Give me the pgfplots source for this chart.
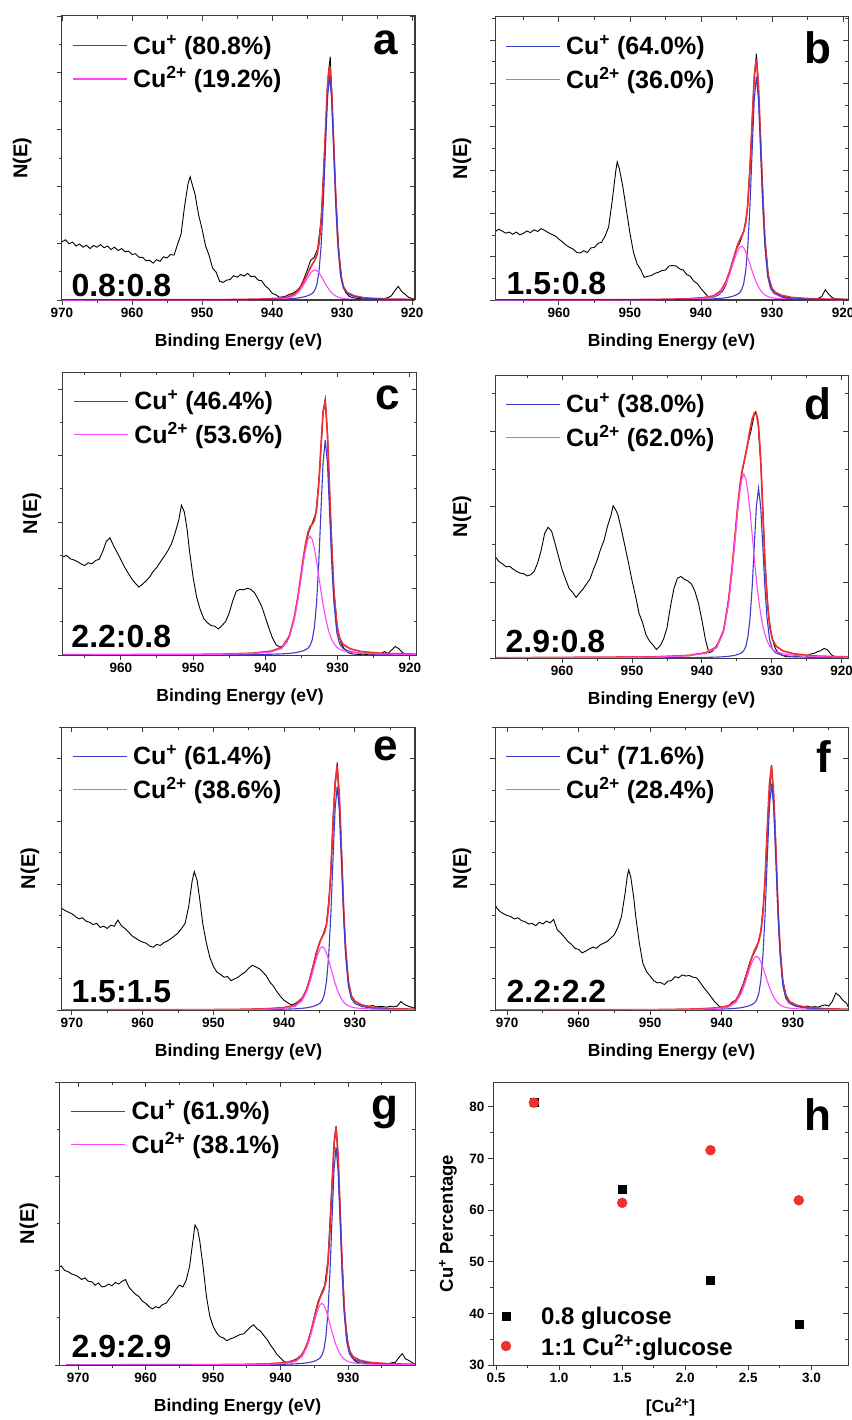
\documentclass[border=0pt]{standalone}
\usepackage{fontspec}
\setmainfont{Liberation Sans}
\usepackage{pgfplots}
\usepackage{pgfplotstable}
\pgfplotsset{compat=1.18}

\definecolor{cuone}{RGB}{60,60,205}
\definecolor{cutwo}{RGB}{255,70,255}
\definecolor{fitsum}{RGB}{238,48,48}
\definecolor{framegray}{RGB}{60,60,60}
\newcommand\fs[1]{\fontsize{#1}{#1}\selectfont}

% ---------- measured Cu 2p spectra (x = binding energy, y = normalised counts)
\pgfplotstableread{
x y
970.0 0.205
969.5 0.212
969.0 0.198
968.5 0.204
968.0 0.190
967.5 0.197
967.0 0.186
966.5 0.193
966.0 0.181
965.5 0.192
965.0 0.186
964.5 0.195
964.0 0.184
963.5 0.190
963.0 0.178
962.5 0.186
962.0 0.174
961.5 0.181
961.0 0.170
960.5 0.172
960.0 0.160
959.5 0.163
959.0 0.150
958.5 0.150
958.0 0.138
957.5 0.140
957.0 0.130
956.5 0.142
956.0 0.136
955.5 0.152
955.0 0.148
954.5 0.160
954.0 0.158
953.5 0.196
953.0 0.232
952.5 0.330
952.0 0.410
951.7 0.434
951.5 0.415
951.0 0.372
950.5 0.300
950.0 0.250
949.5 0.190
949.0 0.157
948.5 0.112
948.0 0.098
947.5 0.066
947.0 0.062
946.5 0.070
946.0 0.072
945.5 0.086
945.0 0.080
944.5 0.090
944.0 0.084
943.5 0.094
943.0 0.082
942.5 0.084
942.0 0.070
941.5 0.068
941.0 0.050
940.5 0.040
940.0 0.024
939.5 0.019
939.0 0.010
938.5 0.011
938.0 0.014
937.5 0.020
937.0 0.024
936.5 0.033
936.0 0.046
935.5 0.072
935.0 0.104
934.5 0.140
934.0 0.150
933.5 0.180
933.0 0.285
932.5 0.530
932.0 0.790
931.7 0.857
931.5 0.740
931.0 0.420
930.5 0.175
930.0 0.062
929.5 0.026
929.0 0.013
928.5 0.008
928.0 0.006
927.5 0.005
927.0 0.004
926.5 0.006
926.0 0.003
925.5 0.005
925.0 0.004
924.5 0.006
924.0 0.005
923.5 0.008
923.0 0.014
922.5 0.032
922.0 0.048
921.5 0.030
921.0 0.020
920.5 0.009
920.0 0.005
919.5 0.003
}\blkA

\pgfplotstableread{
x y
969.0 0.241
968.5 0.250
968.0 0.244
967.5 0.236
967.0 0.240
966.5 0.232
966.0 0.240
965.5 0.230
965.0 0.236
964.5 0.244
964.0 0.238
963.5 0.248
963.0 0.242
962.5 0.252
962.0 0.246
961.5 0.238
961.0 0.232
960.5 0.226
960.0 0.215
959.5 0.205
959.0 0.194
958.5 0.186
958.0 0.180
957.5 0.168
957.0 0.166
956.5 0.174
956.0 0.168
955.5 0.184
955.0 0.186
954.5 0.200
954.0 0.204
953.5 0.226
953.0 0.258
952.5 0.350
952.0 0.455
951.8 0.488
951.5 0.465
951.0 0.400
950.5 0.318
950.0 0.236
949.5 0.168
949.0 0.128
948.5 0.108
948.0 0.080
947.5 0.084
947.0 0.086
946.5 0.094
946.0 0.098
945.5 0.104
945.0 0.106
944.5 0.120
944.0 0.122
943.5 0.120
943.0 0.110
942.5 0.106
942.0 0.090
941.5 0.084
941.0 0.066
940.5 0.058
940.0 0.040
939.5 0.026
939.0 0.012
938.5 0.009
938.0 0.012
937.5 0.019
937.0 0.030
936.5 0.052
936.0 0.098
935.5 0.140
935.0 0.180
934.5 0.205
934.0 0.240
933.5 0.310
933.0 0.520
932.5 0.790
932.2 0.870
932.0 0.800
931.5 0.500
931.0 0.220
930.5 0.085
930.0 0.042
929.5 0.026
929.0 0.015
928.5 0.010
928.0 0.006
927.5 0.005
927.0 0.004
926.5 0.003
926.0 0.004
925.5 0.003
925.0 0.004
924.5 0.003
924.0 0.005
923.5 0.006
923.0 0.012
922.5 0.036
922.0 0.020
921.5 0.008
921.0 0.004
920.5 0.003
920.0 0.003
919.5 0.002
}\blkB

\pgfplotstableread{
x y
968.0 0.347
967.5 0.352
967.0 0.340
966.5 0.336
966.0 0.330
965.5 0.322
965.0 0.316
964.5 0.326
964.0 0.322
963.5 0.334
963.0 0.338
962.5 0.366
962.0 0.402
961.5 0.414
961.0 0.386
960.5 0.362
960.0 0.338
959.5 0.312
959.0 0.290
958.5 0.270
958.0 0.254
957.5 0.240
957.0 0.250
956.5 0.262
956.0 0.276
955.5 0.296
955.0 0.310
954.5 0.330
954.0 0.348
953.5 0.368
953.0 0.392
952.5 0.430
952.0 0.474
951.6 0.529
951.2 0.505
950.8 0.440
950.5 0.370
950.0 0.276
949.5 0.204
949.0 0.160
948.5 0.128
948.0 0.114
947.5 0.104
947.0 0.102
946.5 0.092
946.0 0.104
945.5 0.118
945.0 0.148
944.5 0.192
944.0 0.226
943.5 0.232
943.0 0.230
942.5 0.236
942.0 0.232
941.5 0.220
941.0 0.198
940.5 0.172
940.0 0.134
939.5 0.095
939.0 0.060
938.5 0.036
938.0 0.028
937.5 0.032
937.0 0.046
936.5 0.082
936.0 0.130
935.5 0.200
935.0 0.290
934.5 0.380
934.0 0.432
933.5 0.466
933.0 0.500
932.5 0.640
932.0 0.860
931.7 0.905
931.4 0.790
931.0 0.510
930.5 0.225
930.0 0.092
929.5 0.040
929.0 0.020
928.5 0.008
928.0 0.004
927.5 0.003
927.0 0.002
926.5 0.003
926.0 0.002
925.5 0.003
925.0 0.002
924.5 0.004
924.0 0.006
923.5 0.012
923.0 0.006
922.5 0.018
922.0 0.030
921.5 0.022
921.0 0.008
920.5 0.004
920.0 0.002
919.5 0.002
919.0 0.001
}\blkC

\pgfplotstableread{
x y
969.6 0.359
969.0 0.340
968.5 0.332
968.0 0.322
967.5 0.324
967.0 0.314
966.5 0.306
966.0 0.300
965.5 0.298
965.0 0.290
964.5 0.294
964.0 0.306
963.5 0.336
963.0 0.380
962.5 0.440
962.0 0.462
961.5 0.448
961.0 0.404
960.5 0.358
960.0 0.312
959.5 0.278
959.0 0.246
958.5 0.232
958.0 0.214
957.5 0.230
957.0 0.244
956.5 0.262
956.0 0.280
955.5 0.314
955.0 0.345
954.5 0.384
954.0 0.416
953.5 0.466
953.0 0.505
952.7 0.538
952.3 0.522
952.0 0.505
951.5 0.452
951.0 0.394
950.5 0.336
950.0 0.274
949.5 0.220
949.0 0.158
948.5 0.126
948.0 0.082
947.5 0.060
947.0 0.046
946.5 0.030
946.0 0.042
945.5 0.066
945.0 0.106
944.5 0.182
944.0 0.246
943.5 0.282
943.0 0.288
942.5 0.278
942.0 0.272
941.5 0.262
941.0 0.236
940.5 0.194
940.0 0.134
939.5 0.066
939.0 0.018
938.5 0.024
938.0 0.040
937.5 0.060
937.0 0.090
936.5 0.150
936.0 0.245
935.5 0.365
935.0 0.505
934.5 0.620
934.0 0.690
933.5 0.750
933.0 0.800
932.5 0.862
932.3 0.870
932.0 0.845
931.5 0.650
931.0 0.350
930.5 0.160
930.0 0.072
929.5 0.034
929.0 0.016
928.5 0.009
928.0 0.005
927.5 0.004
927.0 0.005
926.5 0.004
926.0 0.008
925.5 0.012
925.0 0.006
924.5 0.014
924.0 0.016
923.5 0.022
923.0 0.026
922.5 0.034
922.0 0.028
921.5 0.012
921.0 0.004
920.5 0.003
920.0 0.002
919.1 0.002
}\blkD

\pgfplotstableread{
x y
971.5 0.360
971.0 0.352
970.5 0.346
970.0 0.340
969.5 0.330
969.0 0.322
968.5 0.326
968.0 0.314
967.5 0.310
967.0 0.302
966.5 0.306
966.0 0.292
965.5 0.296
965.0 0.288
964.5 0.300
964.0 0.296
963.5 0.318
963.0 0.298
962.5 0.288
962.0 0.276
961.5 0.262
961.0 0.254
960.5 0.246
960.0 0.240
959.5 0.236
959.0 0.226
958.5 0.222
958.0 0.232
957.5 0.228
957.0 0.238
956.5 0.244
956.0 0.252
955.5 0.262
955.0 0.272
954.5 0.288
954.0 0.306
953.5 0.364
953.0 0.456
952.7 0.489
952.3 0.458
952.0 0.405
951.5 0.305
951.0 0.238
950.5 0.186
950.0 0.154
949.5 0.134
949.0 0.126
948.5 0.116
948.0 0.118
947.5 0.104
947.0 0.110
946.5 0.116
946.0 0.126
945.5 0.134
945.0 0.148
944.5 0.158
944.0 0.152
943.5 0.146
943.0 0.134
942.5 0.120
942.0 0.098
941.5 0.084
941.0 0.064
940.5 0.048
940.0 0.034
939.5 0.026
939.0 0.018
938.5 0.022
938.0 0.030
937.5 0.042
937.0 0.062
936.5 0.100
936.0 0.148
935.5 0.200
935.0 0.238
934.5 0.266
934.0 0.305
933.5 0.440
933.0 0.720
932.5 0.875
932.0 0.640
931.5 0.300
931.0 0.110
930.5 0.050
930.0 0.032
929.5 0.022
929.0 0.018
928.5 0.016
928.0 0.013
927.5 0.016
927.0 0.011
926.5 0.013
926.0 0.012
925.5 0.010
925.0 0.013
924.5 0.011
924.0 0.014
923.5 0.030
923.0 0.020
922.5 0.014
922.0 0.010
921.5 0.006
}\blkE

\pgfplotstableread{
x y
971.7 0.377
971.5 0.362
971.0 0.348
970.5 0.340
970.0 0.334
969.5 0.330
969.0 0.322
968.5 0.326
968.0 0.316
967.5 0.312
967.0 0.304
966.5 0.306
966.0 0.298
965.5 0.310
965.0 0.304
964.5 0.314
964.0 0.308
963.5 0.320
963.0 0.284
962.5 0.272
962.0 0.258
961.5 0.242
961.0 0.232
960.5 0.218
960.0 0.214
959.5 0.202
959.0 0.208
958.5 0.216
958.0 0.222
957.5 0.218
957.0 0.230
956.5 0.236
956.0 0.242
955.5 0.254
955.0 0.266
954.5 0.292
954.0 0.330
953.5 0.412
953.2 0.470
953.0 0.495
952.7 0.470
952.3 0.400
952.0 0.330
951.5 0.236
951.0 0.165
950.5 0.136
950.0 0.120
949.5 0.104
949.0 0.096
948.5 0.097
948.0 0.090
947.5 0.102
947.0 0.104
946.5 0.118
946.0 0.114
945.5 0.124
945.0 0.120
944.5 0.122
944.0 0.116
943.5 0.114
943.0 0.098
942.5 0.080
942.0 0.064
941.5 0.048
941.0 0.030
940.5 0.018
940.0 0.006
939.5 0.012
939.0 0.016
938.5 0.028
938.0 0.035
937.5 0.060
937.0 0.090
936.5 0.130
936.0 0.172
935.5 0.198
935.0 0.225
934.5 0.280
934.0 0.410
933.5 0.690
933.0 0.865
932.5 0.650
932.0 0.300
931.5 0.115
931.0 0.055
930.5 0.032
930.0 0.020
929.5 0.014
929.0 0.012
928.5 0.009
928.0 0.014
927.5 0.010
927.0 0.012
926.5 0.010
926.0 0.015
925.5 0.018
925.0 0.014
924.5 0.030
924.0 0.060
923.5 0.050
923.0 0.034
922.5 0.024
922.3 0.012
}\blkF

\pgfplotstableread{
x y
972.7 0.348
972.5 0.350
972.0 0.334
971.5 0.330
971.0 0.322
970.5 0.318
970.0 0.312
969.5 0.302
969.0 0.308
968.5 0.296
968.0 0.294
967.5 0.282
967.0 0.290
966.5 0.276
966.0 0.278
965.5 0.286
965.0 0.280
964.5 0.292
964.0 0.286
963.5 0.296
963.0 0.302
962.5 0.276
962.0 0.262
961.5 0.250
961.0 0.242
960.5 0.226
960.0 0.218
959.5 0.206
959.0 0.198
958.5 0.206
958.0 0.202
957.5 0.214
957.0 0.218
956.5 0.234
956.0 0.248
955.5 0.268
955.0 0.282
954.5 0.276
954.0 0.300
953.5 0.348
953.0 0.440
952.7 0.495
952.3 0.478
952.0 0.440
951.5 0.348
951.0 0.242
950.5 0.172
950.0 0.136
949.5 0.114
949.0 0.100
948.5 0.096
948.0 0.086
947.5 0.092
947.0 0.096
946.5 0.102
946.0 0.108
945.5 0.110
945.0 0.122
944.5 0.134
944.0 0.142
943.5 0.128
943.0 0.120
942.5 0.104
942.0 0.090
941.5 0.070
941.0 0.054
940.5 0.036
940.0 0.024
939.5 0.012
939.0 0.008
938.5 0.014
938.0 0.018
937.5 0.024
937.0 0.034
936.5 0.052
936.0 0.082
935.5 0.122
935.0 0.172
934.5 0.222
934.0 0.252
933.5 0.280
933.0 0.370
932.5 0.600
932.0 0.800
931.8 0.845
931.5 0.740
931.0 0.420
930.5 0.170
930.0 0.072
929.5 0.030
929.0 0.014
928.5 0.008
928.0 0.006
927.5 0.005
927.0 0.004
926.5 0.006
926.0 0.005
925.5 0.004
925.0 0.006
924.5 0.005
924.0 0.005
923.5 0.008
923.0 0.010
922.5 0.026
922.0 0.040
921.5 0.022
921.0 0.016
920.5 0.008
920.1 0.004
}\blkG

% ---------- peak fits: b = Cu+, m = Cu2+, r = envelope
\pgfplotstableread{
x b m r
917.8 0.0008 0.0003 0.0011
923.8 0.0024 0.0008 0.0032
926.8 0.0059 0.0016 0.0075
928.3 0.0122 0.0024 0.0146
929.3 0.0229 0.0037 0.0266
929.8 0.0403 0.0050 0.0453
930.2 0.0822 0.0070 0.0892
930.6 0.191 0.0101 0.201
930.9 0.336 0.0138 0.350
931.2 0.526 0.0188 0.545
931.5 0.707 0.0257 0.733
931.8 0.790 0.0345 0.825
932.1 0.707 0.0451 0.752
932.4 0.526 0.0572 0.583
932.7 0.336 0.0706 0.406
933.0 0.191 0.0837 0.275
933.3 0.103 0.0949 0.198
933.6 0.0561 0.103 0.159
933.9 0.0348 0.106 0.141
934.2 0.0245 0.103 0.128
934.5 0.0198 0.0949 0.115
934.8 0.0162 0.0837 0.100
935.2 0.0126 0.0661 0.0787
935.6 0.0103 0.0490 0.0593
936.1 0.0079 0.0311 0.039
936.8 0.0059 0.0151 0.021
937.8 0.0042 0.0058 0.010
939.3 0.0029 0.0028 0.0057
941.8 0.0016 0.0013 0.0029
946.8 0.0006 0.0005 0.0011
971.8 0 0.0001 0.0001
}\fitA

\pgfplotstableread{
x b m r
918.2 0.0008 0.0006 0.0014
924.2 0.0024 0.0014 0.0038
927.2 0.0059 0.0029 0.0088
928.7 0.0122 0.0044 0.0166
929.7 0.0229 0.0067 0.0296
930.2 0.0403 0.0089 0.0492
930.6 0.0822 0.0125 0.0947
931.0 0.191 0.0181 0.209
931.3 0.336 0.0247 0.361
931.6 0.526 0.0336 0.560
931.9 0.707 0.046 0.753
932.2 0.790 0.0618 0.852
932.5 0.707 0.0808 0.788
932.8 0.526 0.1026 0.629
933.1 0.336 0.1265 0.463
933.4 0.191 0.150 0.341
933.7 0.103 0.170 0.273
934.0 0.0561 0.185 0.241
934.3 0.0348 0.190 0.225
934.6 0.0245 0.185 0.209
934.9 0.0198 0.170 0.190
935.2 0.0162 0.150 0.166
935.6 0.0126 0.119 0.131
936.0 0.0103 0.0878 0.098
936.5 0.0079 0.0557 0.064
937.2 0.0059 0.0270 0.033
938.2 0.0042 0.0105 0.0147
939.7 0.0029 0.0049 0.0078
942.2 0.0016 0.0023 0.0039
947.2 0.0006 0.0009 0.0015
972.2 0 0.0001 0.0001
}\fitB

\pgfplotstableread{
x b m r
917.7 0.0008 0.0013 0.0021
923.7 0.0023 0.0032 0.0055
926.7 0.0057 0.0063 0.012
928.2 0.0118 0.0097 0.0215
929.2 0.022 0.0147 0.0367
929.7 0.0388 0.0197 0.0585
930.1 0.079 0.0277 0.107
930.5 0.184 0.0399 0.224
930.8 0.323 0.0546 0.378
931.1 0.506 0.0743 0.580
931.4 0.680 0.102 0.782
931.7 0.760 0.137 0.897
932.0 0.680 0.179 0.859
932.3 0.506 0.227 0.733
932.6 0.323 0.280 0.603
932.9 0.184 0.332 0.516
933.2 0.0988 0.376 0.475
933.5 0.054 0.408 0.462
933.8 0.0334 0.420 0.453
934.1 0.0236 0.408 0.432
934.4 0.019 0.376 0.395
934.7 0.0156 0.332 0.348
935.1 0.0122 0.262 0.274
935.5 0.0099 0.194 0.204
936.0 0.0076 0.123 0.131
936.7 0.0057 0.0596 0.065
937.7 0.004 0.0231 0.027
939.2 0.0028 0.0109 0.0137
941.7 0.0015 0.005 0.0065
946.7 0.0006 0.0019 0.0025
971.7 0 0.0002 0.0002
}\fitC

\pgfplotstableread{
x b m r
917.9 0.0006 0.0020 0.003
923.9 0.0018 0.0049 0.007
926.9 0.0045 0.0098 0.015
928.4 0.0093 0.0150 0.025
929.4 0.0174 0.0228 0.042
929.9 0.0306 0.0306 0.066
930.3 0.0624 0.0429 0.110
930.7 0.145 0.0618 0.215
931.0 0.255 0.0845 0.350
931.3 0.400 0.115 0.530
931.6 0.537 0.157 0.710
931.9 0.600 0.211 0.820
932.2 0.537 0.276 0.860
932.5 0.400 0.351 0.865
932.8 0.255 0.433 0.845
933.1 0.145 0.514 0.810
933.4 0.078 0.582 0.765
933.7 0.0426 0.632 0.725
934.0 0.0264 0.650 0.690
934.3 0.0186 0.632 0.655
934.6 0.0150 0.582 0.600
934.9 0.0123 0.514 0.530
935.3 0.0096 0.406 0.420
935.7 0.0078 0.300 0.315
936.2 0.0060 0.190 0.200
936.9 0.0045 0.0923 0.097
937.9 0.0032 0.0358 0.039
939.4 0.0022 0.0169 0.019
941.9 0.0012 0.0078 0.009
946.9 0.0005 0.0030 0.004
971.9 0 0.0003 0.0003
}\fitD

\pgfplotstableread{
x b m r
918.5 0.0008 0.0007 0.0015
924.5 0.0024 0.0017 0.0041
927.5 0.0059 0.0034 0.0093
929.0 0.0122 0.0052 0.0174
930.0 0.0229 0.0078 0.0307
930.5 0.0403 0.0105 0.0508
930.9 0.0822 0.0148 0.097
931.3 0.191 0.0213 0.212
931.6 0.336 0.0291 0.365
931.9 0.526 0.0396 0.566
932.2 0.707 0.0542 0.761
932.5 0.790 0.0728 0.863
932.8 0.707 0.0952 0.802
933.1 0.526 0.121 0.647
933.4 0.336 0.149 0.485
933.7 0.191 0.177 0.368
934.0 0.103 0.200 0.303
934.3 0.0561 0.218 0.274
934.6 0.0348 0.224 0.259
934.9 0.0245 0.218 0.243
935.2 0.0198 0.200 0.220
935.5 0.0162 0.177 0.193
935.9 0.0126 0.140 0.153
936.3 0.0103 0.1035 0.114
936.8 0.0079 0.0656 0.0735
937.5 0.0059 0.0318 0.0377
938.5 0.0042 0.0123 0.0165
940.0 0.0029 0.0058 0.0087
942.5 0.0016 0.0027 0.0043
947.5 0.0006 0.001 0.0016
972.5 0 0.0001 0.0001
}\fitE

\pgfplotstableread{
x b m r
919.0 0.0008 0.0006 0.0014
925.0 0.0024 0.0014 0.0038
928.0 0.006 0.0029 0.0089
929.5 0.0124 0.0044 0.0168
930.5 0.0232 0.0067 0.0299
931.0 0.0408 0.0089 0.0497
931.4 0.0832 0.0125 0.0957
931.8 0.194 0.0181 0.212
932.1 0.340 0.0247 0.365
932.4 0.533 0.0336 0.567
932.7 0.716 0.046 0.762
933.0 0.800 0.0618 0.862
933.3 0.716 0.0808 0.797
933.6 0.533 0.1026 0.636
933.9 0.340 0.1265 0.467
934.2 0.194 0.150 0.344
934.5 0.104 0.170 0.274
934.8 0.0568 0.185 0.242
935.1 0.0352 0.190 0.225
935.4 0.0248 0.185 0.210
935.7 0.020 0.170 0.190
936.0 0.0164 0.150 0.166
936.4 0.0128 0.119 0.132
936.8 0.0104 0.0878 0.098
937.3 0.008 0.0557 0.064
938.0 0.006 0.027 0.033
939.0 0.0042 0.0105 0.0147
940.5 0.003 0.0049 0.0079
943.0 0.0016 0.0023 0.0039
948.0 0.0006 0.0009 0.0015
973.0 0 0.0001 0.0001
}\fitF

\pgfplotstableread{
x b m r
917.8 0.0008 0.0007 0.0015
923.8 0.0023 0.0016 0.0039
926.8 0.0058 0.0033 0.0091
928.3 0.0119 0.005 0.0169
929.3 0.0223 0.0076 0.0299
929.8 0.0393 0.0102 0.0495
930.2 0.080 0.0144 0.0944
930.6 0.186 0.0207 0.207
930.9 0.327 0.0283 0.355
931.2 0.513 0.0386 0.552
931.5 0.689 0.0528 0.742
931.8 0.770 0.0709 0.841
932.1 0.689 0.0927 0.782
932.4 0.513 0.118 0.631
932.7 0.327 0.145 0.472
933.0 0.186 0.172 0.358
933.3 0.100 0.195 0.295
933.6 0.0547 0.212 0.267
933.9 0.0339 0.218 0.252
934.2 0.0239 0.212 0.236
934.5 0.0193 0.195 0.214
934.8 0.0158 0.172 0.188
935.2 0.0123 0.136 0.148
935.6 0.010 0.1007 0.111
936.1 0.0077 0.0639 0.0716
936.8 0.0058 0.031 0.0368
937.8 0.0041 0.012 0.0161
939.3 0.0028 0.0057 0.0085
941.8 0.0015 0.0026 0.0041
946.8 0.0006 0.001 0.0016
971.8 0 0.0001 0.0001
}\fitG

\tikzset{
  letter/.style={anchor=base east, font=\bfseries\fs{44}},
  ratio/.style={anchor=base west, font=\bfseries\fs{32}},
  keytext/.style={anchor=base west, inner sep=0pt, font=\bfseries\fs{25}},
}
\pgfplotsset{
  panel/.style={
    scale only axis, anchor=south west,
    axis line style={framegray, line width=1pt},
    every tick/.style={framegray, line width=0.9pt},
    major tick length=5pt, minor tick length=3pt,
    tick align=outside, xtick pos=left, ytick pos=left,
    ticklabel style={font=\bfseries\fs{13.5}},
    /pgf/number format/assume math mode=true,
    /pgf/number format/1000 sep={},
  },
  spec/.style={
    panel, x dir=reverse, ymin=0, ymax=1,
    xtick={920,930,...,970}, minor x tick num=1, minor y tick num=1,
    yticklabels={},
    xlabel={Binding Energy (eV)}, ylabel={N(E)},
    xlabel style={font=\bfseries\fs{17.5}, at={(0.5,-0.148)}, anchor=center, inner sep=0pt},
    ylabel style={font=\bfseries\fs{20}, anchor=center, inner sep=0pt},
  },
  mirror/.style={
    panel, x dir=reverse, ymin=0, ymax=1,
    xtick={920,930,...,970}, minor x tick num=1, minor y tick num=1,
    tick align=inside, xtick pos=right, ytick pos=right,
    xticklabels={}, yticklabels={},
  },
}

% spectrum, envelope, the two components and the key in the upper left
% (#5, #6: binding energies where the key lines start and end)
\newcommand\spectrum[6]{%
  \addplot[black, line width=0.9pt] table[x=x, y=y] {#1};
  \addplot[fitsum, line width=1.7pt] table[x=x, y=r] {#2};
  \addplot[cuone, line width=1.1pt] table[x=x, y=b] {#2};
  \addplot[cutwo, line width=1.1pt] table[x=x, y=m] {#2};
  \addplot[cuone, line width=1.6pt] coordinates {(#5,0.8955) (#6,0.8955)};
  \addplot[cutwo, line width=1.6pt] coordinates {(#5,0.7785) (#6,0.7785)};
  \node[keytext] at (rel axis cs:0.201,0.866) {Cu\textsuperscript{+} (#3\%)};
  \node[keytext] at (rel axis cs:0.201,0.749) {Cu\textsuperscript{2+} (#4\%)};
}
% frame ticks on the top and right edges, pointing inwards
\newcommand\mirrorbox[7]{%
  \begin{axis}[mirror, at={(#1pt,-#2pt)}, width=#3pt, height=#4pt,
    xmin=#5, xmax=#6, ytick distance=#7]
  \end{axis}}

\begin{document}
\begin{tikzpicture}
\path[use as bounding box] (0pt,0pt) rectangle (851pt,-1420pt);
\clip (0pt,0pt) rectangle (851pt,-1420pt);

% (a)
\begin{axis}[spec, at={(62pt,-300pt)}, width=353pt, height=284pt,
  xmin=919.6, xmax=970, ytick distance=0.2, ylabel style={at={(-0.113,0.5)}}]
  \spectrum{\blkA}{\fitA}{80.8}{19.2}{968.44}{960.73}
  \node[letter] at (rel axis cs:0.963,0.863) {a};
  \node[ratio] at (rel axis cs:0.017,0.011) {0.8:0.8};
\end{axis}
\mirrorbox{62}{300}{353}{284}{919.6}{970}{0.2}

% (b)
\begin{axis}[spec, at={(495pt,-300pt)}, width=353pt, height=283pt,
  xmin=919.3, xmax=969, ytick distance=0.153, ylabel style={at={(-0.0935,0.5)}}]
  \spectrum{\blkB}{\fitB}{64.0}{36.0}{967.46}{959.86}
  \node[letter] at (rel axis cs:0.963,0.837) {b};
  \node[ratio] at (rel axis cs:0.023,0.018) {1.5:0.8};
\end{axis}
\mirrorbox{495}{300}{353}{283}{919.3}{969}{0.153}

% (c)
\begin{axis}[spec, at={(63pt,-655pt)}, width=354pt, height=283pt,
  xmin=919, xmax=968, ytick distance=0.235, ylabel style={at={(-0.0876,0.5)}}]
  \spectrum{\blkC}{\fitC}{46.4}{53.6}{966.48}{958.98}
  \node[letter] at (rel axis cs:0.963,0.866) {c};
  \node[ratio] at (rel axis cs:0.014,0.025) {2.2:0.8};
\end{axis}
\mirrorbox{63}{655}{354}{283}{919}{968}{0.235}

% (d)
\begin{axis}[spec, at={(495pt,-658pt)}, width=353pt, height=283pt,
  xmin=919.1, xmax=969.6, ytick distance=0.267, ylabel style={at={(-0.0935,0.5)}}]
  \spectrum{\blkD}{\fitD}{38.0}{62.0}{968.03}{960.31}
  \node[letter] at (rel axis cs:0.963,0.841) {d};
  \node[ratio] at (rel axis cs:0.02,0.021) {2.9:0.8};
\end{axis}
\mirrorbox{495}{658}{353}{283}{919.1}{969.6}{0.267}

% (e)
\begin{axis}[spec, at={(62pt,-1010pt)}, width=353pt, height=283pt,
  xmin=921.5, xmax=971.4, ytick distance=0.222, ylabel style={at={(-0.0907,0.5)}}]
  \spectrum{\blkE}{\fitE}{61.4}{38.6}{969.85}{962.22}
  \node[letter] at (rel axis cs:0.963,0.883) {e};
  \node[ratio] at (rel axis cs:0.017,0.025) {1.5:1.5};
\end{axis}
\mirrorbox{62}{1010}{353}{283}{921.5}{971.4}{0.222}

% (f)
\begin{axis}[spec, at={(495pt,-1010pt)}, width=353pt, height=283pt,
  xmin=922.3, xmax=971.7, ytick distance=0.222, ylabel style={at={(-0.0935,0.5)}}]
  \spectrum{\blkF}{\fitF}{71.6}{28.4}{970.17}{962.61}
  \node[letter] at (rel axis cs:0.963,0.841) {f};
  \node[ratio] at (rel axis cs:0.023,0.028) {2.2:2.2};
\end{axis}
\mirrorbox{495}{1010}{353}{283}{922.3}{971.7}{0.222}

% (g)
\begin{axis}[spec, at={(60pt,-1365pt)}, width=355pt, height=283pt,
  xmin=920.1, xmax=972.7, ytick distance=0.333, ylabel style={at={(-0.0873,0.5)}}]
  \spectrum{\blkG}{\fitG}{61.9}{38.1}{971.07}{963.02}
  \node[letter] at (rel axis cs:0.963,0.866) {g};
  \node[ratio] at (rel axis cs:0.023,0.028) {2.9:2.9};
\end{axis}
\mirrorbox{60}{1365}{355}{283}{920.1}{972.7}{0.333}

% (h) Cu+ fraction against copper concentration
\begin{axis}[panel, at={(493pt,-1365pt)}, width=355pt, height=283pt,
  xmin=0.476, xmax=3.29, ymin=30, ymax=84.8,
  xtick={0.5,1,...,3}, xticklabels={0.5,1.0,1.5,2.0,2.5,3.0},
  ytick={30,40,...,80}, minor x tick num=1, minor y tick num=1,
  xlabel={[Cu\textsuperscript{2+}]}, ylabel={Cu\textsuperscript{+} Percentage},
  xlabel style={font=\bfseries\fs{17.5}, at={(0.5,-0.148)}, anchor=center, inner sep=0pt},
  ylabel style={font=\bfseries\fs{18.5}, at={(-0.127,0.5)}, anchor=center, inner sep=0pt},
  legend style={draw=none, fill=none, at={(0.022,0.02)}, anchor=south west,
    inner sep=0pt, row sep=5pt, font=\bfseries\fs{24}, cells={anchor=west},
    /tikz/every odd column/.append style={column sep=28pt}},
  legend image code/.code={\draw[#1] plot coordinates {(0pt,0pt)};},
]
  \addplot[only marks, mark=square*, mark size=4pt, black] coordinates
    {(0.8,80.8) (1.5,64.0) (2.2,46.4) (2.9,38.0)};
  \addlegendentry{0.8 glucose}
  \addplot[only marks, mark=*, mark size=5pt, fitsum, mark options={draw=fitsum, fill=fitsum}] coordinates
    {(0.8,80.8) (1.5,61.4) (2.2,71.6) (2.9,61.9)};
  \addlegendentry{1:1 Cu\textsuperscript{2+}:glucose}
  \node[letter] at (rel axis cs:0.963,0.830) {h};
\end{axis}
\begin{axis}[panel, at={(493pt,-1365pt)}, width=355pt, height=283pt,
  xmin=0.476, xmax=3.29, ymin=30, ymax=84.8, xtick=\empty,
  ytick={30,40,...,80}, minor y tick num=1, tick align=inside,
  ytick pos=right, yticklabels={}]
\end{axis}
\end{tikzpicture}
\end{document}
